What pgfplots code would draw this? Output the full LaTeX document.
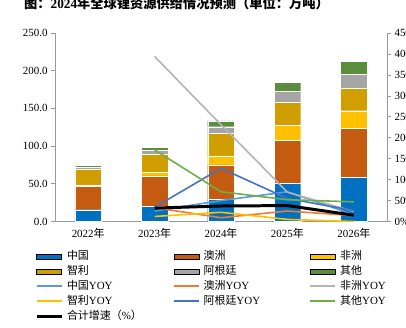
\documentclass[border=0pt]{standalone}
\usepackage{pgfplots}
\pgfplotsset{compat=1.18}
\usepackage{pgfplotstable}
\usepackage{fontspec}
\setmainfont{Liberation Serif}
\newfontfamily\cjk{Noto Sans CJK SC}
\definecolor{cChina}{HTML}{0070C0}
\definecolor{cAus}{HTML}{C55A11}
\definecolor{cAfr}{HTML}{FFC000}
\definecolor{cChile}{HTML}{D09E00}
\definecolor{cArg}{HTML}{A5A5A5}
\definecolor{cOth}{HTML}{5A8E3C}
\definecolor{yChina}{HTML}{5B9BD5}
\definecolor{yAus}{HTML}{ED7D31}
\definecolor{yAfr}{HTML}{B4B4B4}
\definecolor{yChile}{HTML}{FFC000}
\definecolor{yArg}{HTML}{4472C4}
\definecolor{yOth}{HTML}{70AD47}
\definecolor{axgray}{HTML}{9A9A9A}
\pgfplotstableread{
x China Aus Afr Chile Arg Oth
0 15.7 30.6 2.2 20.4 3.6 2.2
1 19.7 40.8 4.4 24.5 4.7 4.0
2 29.5 45.6 12.0 30.2 8.4 7.9
3 50.3 57.1 20.0 30.6 14.6 12.0
4 58.2 65.2 23.5 30.2 17.7 17.3
}\supply
\pgfplotstableread{
x ChinaY AusY AfrY ChileY ArgY OthY Tot
1 0.25 0.33 3.94 0.12 0.34 1.71 0.32
2 0.50 0.09 2.31 0.22 1.27 0.71 0.37
3 0.71 0.25 0.70 0.05 0.55 0.52 0.38
4 0.16 0.14 0.24 0.00 0.26 0.47 0.15
}\growth
\newcommand\lgd[1]{\makebox[106bp][l]{#1}}
\pgfplotsset{
  base/.style={
    at={(55bp,106.5bp)}, anchor=south west, scale only axis,
    width=332bp, height=188.5bp, xmin=-0.5, xmax=4.5,
    axis line style={axgray, line width=0.8pt},
    tick style={axgray, line width=0.6pt},
    major tick length=4bp,
    tick label style={font=\fontsize{11}{13}\selectfont, text=black},
    /pgf/number format/assume math mode=true,
  },
  barimg/.style={legend image code/.code={\fill[##1] (0bp,-2.5bp) rectangle (25bp,2.5bp);}},
  lineimg/.style={legend image code/.code={\draw[##1] (0bp,0bp) -- (25bp,0bp);}},
}
\begin{document}
\begin{tikzpicture}
\useasboundingbox (0,0) rectangle (406bp,328bp);
\clip (0,0) rectangle (406bp,328bp);
\node[anchor=base west, inner sep=0pt, font=\fontsize{13.3}{15}\selectfont\bfseries] at (24bp,319.5bp) {{\cjk 图：}2024{\cjk 年全球锂资源供给情况预测（单位：万吨）}};
\begin{axis}[base,
  ybar stacked, bar width=0.4,
  ymin=0, ymax=250, ytick={0,50,...,250},
  yticklabel style={/pgf/number format/.cd, fixed, fixed zerofill, precision=1},
  axis y line*=left, axis x line*=bottom,
  y tick style={axgray}, ytick align=outside,
  xtick={0,...,4},
  xticklabels={2022{\cjk 年},2023{\cjk 年},2024{\cjk 年},2025{\cjk 年},2026{\cjk 年}},
  major x tick style={draw=none},
  xticklabel style={yshift=-3bp},
  extra x ticks={0.5,1.5,2.5,3.5}, extra x tick labels={},
  extra x tick style={tick align=inside, major tick length=3bp, tick style={axgray}},
  every axis plot/.append style={draw=white, line width=0.3pt},
]
\addplot[fill=cChina] table[x=x,y=China]{\supply};
\addplot[fill=cAus] table[x=x,y=Aus]{\supply};
\addplot[fill=cAfr] table[x=x,y=Afr]{\supply};
\addplot[fill=cChile] table[x=x,y=Chile]{\supply};
\addplot[fill=cArg] table[x=x,y=Arg]{\supply};
\addplot[fill=cOth] table[x=x,y=Oth]{\supply};
\end{axis}
\begin{axis}[base,
  ymin=0, ymax=4.5, ytick={0,0.5,...,4.5},
  yticklabels={0\%,50\%,100\%,150\%,200\%,250\%,300\%,350\%,400\%,450\%},
  axis y line*=right, axis x line=none, ytick align=outside,
  legend columns=3,
  legend cell align=left,
  legend style={at={(axis description cs:-0.0602,-0.155)}, anchor=north west,
    draw=none, fill=none, inner sep=0pt, outer sep=0pt,
    font=\fontsize{11}{13}\selectfont, row sep=4bp,
    nodes={inner sep=0pt, text height=9bp, text depth=2bp},
    /tikz/every odd column/.append style={column sep=4bp}},
]
\addlegendimage{barimg, fill=cChina}\addlegendentry{\lgd{\cjk 中国}}
\addlegendimage{barimg, fill=cAus}\addlegendentry{\lgd{\cjk 澳洲}}
\addlegendimage{barimg, fill=cAfr}\addlegendentry{\lgd{\cjk 非洲}}
\addlegendimage{barimg, fill=cChile}\addlegendentry{\lgd{\cjk 智利}}
\addlegendimage{barimg, fill=cArg}\addlegendentry{\lgd{\cjk 阿根廷}}
\addlegendimage{barimg, fill=cOth}\addlegendentry{\lgd{\cjk 其他}}
\addplot[lineimg, yChina, line width=1.6pt] table[x=x,y=ChinaY]{\growth};
\addlegendentry{\lgd{{\cjk 中国}YOY}}
\addplot[lineimg, yAus, line width=1.6pt] table[x=x,y=AusY]{\growth};
\addlegendentry{\lgd{{\cjk 澳洲}YOY}}
\addplot[lineimg, yAfr, line width=1.6pt] table[x=x,y=AfrY]{\growth};
\addlegendentry{\lgd{{\cjk 非洲}YOY}}
\addplot[lineimg, yChile, line width=1.6pt] table[x=x,y=ChileY]{\growth};
\addlegendentry{\lgd{{\cjk 智利}YOY}}
\addplot[lineimg, yArg, line width=1.6pt] table[x=x,y=ArgY]{\growth};
\addlegendentry{\lgd{{\cjk 阿根廷}YOY}}
\addplot[lineimg, yOth, line width=1.6pt] table[x=x,y=OthY]{\growth};
\addlegendentry{\lgd{{\cjk 其他}YOY}}
\addplot[lineimg, black, line width=3pt] table[x=x,y=Tot]{\growth};
\addlegendentry{\lgd{{\cjk 合计增速（}\%{\cjk ）}}}
\end{axis}
\end{tikzpicture}
\end{document}
